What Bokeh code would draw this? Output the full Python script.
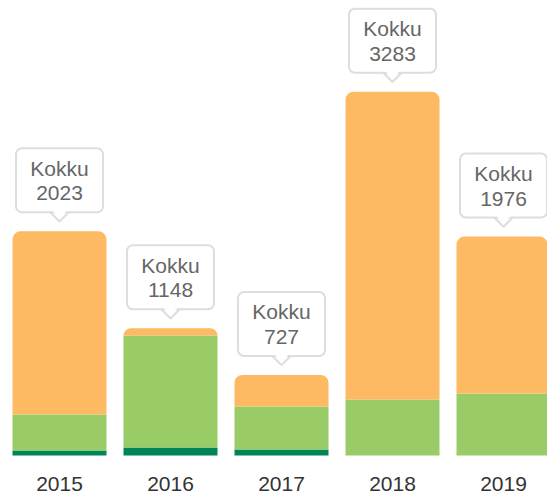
import numpy as np
from bokeh.plotting import figure
from bokeh.models import Range1d
from bokeh.core.properties import value
from bokeh.embed import file_html
from bokeh.resources import INLINE

years = ["2015", "2016", "2017", "2018", "2019"]
dark = [45, 72, 54, 0, 0]
light = [325, 1010, 388, 505, 560]
orange = [1653, 66, 285, 2778, 1416]
totals = [2023, 1148, 727, 3283, 1976]

UPX = 9.025   # data units per pixel (vertical)
XPX = 1/111   # data units per pixel (horizontal)
x = np.arange(len(years))
d = np.array(dark, dtype=float)
l = np.array(light, dtype=float)
o = np.array(orange, dtype=float)
tot = np.array(totals, dtype=float)

p = figure(width=547, height=493, output_backend="svg", toolbar_location=None,
           x_range=Range1d(-59*XPX, -59*XPX + 547*XPX),
           y_range=Range1d(-38*UPX, 455*UPX),
           min_border=0, outline_line_color=None)
p.axis.visible = False
p.grid.visible = False
p.background_fill_color = "white"
p.border_fill_color = "white"

W = 94*XPX
p.vbar(x=x, bottom=0, top=d, width=W, fill_color="#008556", line_color=None)
p.vbar(x=x, bottom=d, top=d+l, width=W, fill_color="#99CC66", line_color=None)
p.vbar(x=x, bottom=d+l, top=d+l+o, width=W, fill_color="#FDBA62", line_color=None,
       border_radius=(8, 8, 0, 0))

FONT = value("Liberation Sans")
# year labels
p.text(x=x, y=np.full(len(x), -28*UPX), text=years, text_align="center", text_baseline="alphabetic",
       text_font=FONT, text_font_size="21px", text_color="#333333")

# callouts
bb = tot + 19*UPX
p.scatter(x=x, y=bb, marker="square", angle=np.pi/4, size=13,
          fill_color="white", line_color="#DDDDDD", line_width=2)
p.quad(left=x - 43.5*XPX, right=x + 43.5*XPX, bottom=bb, top=tot + 83*UPX,
       fill_color="white", line_color="#DDDDDD", line_width=2, border_radius=6)
p.scatter(x=x, y=bb + 1.5*UPX, marker="square", angle=np.pi/4, size=10,
          fill_color="white", line_color=None)
p.text(x=x, y=tot + 63*UPX, text=["Kokku"]*len(x), text_align="center", text_baseline="alphabetic",
       text_font=FONT, text_font_size="21px", text_color="#666666")
p.text(x=x, y=tot + 38*UPX, text=[str(t) for t in totals], text_align="center",
       text_baseline="alphabetic",
       text_font=FONT, text_font_size="21px", text_color="#666666")

open("out.html", "w").write(file_html(p, INLINE))
